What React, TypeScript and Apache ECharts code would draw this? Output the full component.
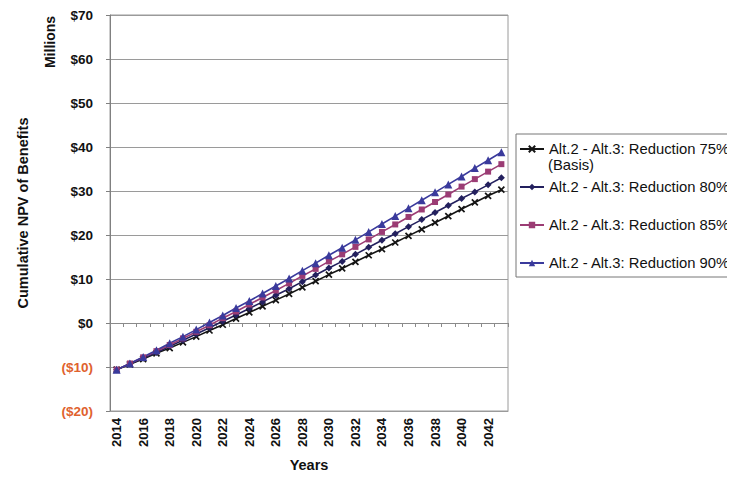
import React, { useEffect, useRef } from "react";
import * as echarts from "echarts";

// Years on the category axis
const years: string[] = [
  "2014", "2015", "2016", "2017", "2018", "2019", "2020", "2021", "2022", "2023",
  "2024", "2025", "2026", "2027", "2028", "2029", "2030", "2031", "2032", "2033",
  "2034", "2035", "2036", "2037", "2038", "2039", "2040", "2041", "2042", "2043",
];

// Cumulative NPV of benefits, $ millions
const reduction75: number[] = [
  -10.6, -9.4, -8.2, -6.9, -5.7, -4.4, -3.1, -1.7, -0.4, 1.0,
  2.4, 3.8, 5.2, 6.6, 8.1, 9.5, 11.0, 12.4, 13.9, 15.4,
  16.8, 18.3, 19.8, 21.3, 22.8, 24.3, 25.9, 27.4, 28.9, 30.3,
];
const reduction80: number[] = [
  -10.6, -9.3, -8.0, -6.7, -5.3, -3.9, -2.5, -1.1, 0.4, 1.8,
  3.3, 4.8, 6.3, 7.8, 9.4, 10.9, 12.5, 14.0, 15.6, 17.2,
  18.8, 20.3, 21.9, 23.5, 25.1, 26.7, 28.3, 29.8, 31.4, 33.0,
];
const reduction85: number[] = [
  -10.6, -9.2, -7.8, -6.4, -5.0, -3.5, -2.0, -0.5, 1.1, 2.6,
  4.2, 5.8, 7.4, 9.0, 10.7, 12.3, 14.0, 15.6, 17.3, 19.0,
  20.7, 22.4, 24.1, 25.8, 27.5, 29.2, 31.0, 32.7, 34.4, 36.1,
];
const reduction90: number[] = [
  -10.6, -9.2, -7.7, -6.2, -4.6, -3.1, -1.5, 0.1, 1.7, 3.4,
  5.0, 6.7, 8.4, 10.1, 11.9, 13.6, 15.4, 17.1, 18.9, 20.7,
  22.5, 24.3, 26.1, 27.9, 29.7, 31.5, 33.3, 35.2, 37.0, 38.8,
];

const seriesNames: string[] = [
  "Alt.2 - Alt.3: Reduction 75%",
  "Alt.2 - Alt.3: Reduction 80%",
  "Alt.2 - Alt.3: Reduction 85%",
  "Alt.2 - Alt.3: Reduction 90%",
];

const FONT = "Arial, 'Liberation Sans', Helvetica, sans-serif";
const GRID_COLOR = "#9a9a9a";
const LEGEND_FONT_SIZE = 14.8;

const crossPath = "path://M0,0L10,10M10,0L0,10";

function lineSeries(name: string, data: number[], color: string, symbol: string, size: number) {
  return {
    name,
    type: "line",
    data,
    symbol,
    symbolSize: size,
    showSymbol: true,
    lineStyle: { color, width: 1.6 },
    itemStyle: { color, borderColor: color, borderWidth: symbol === crossPath ? 1.7 : 0 },
    emphasis: { disabled: true },
  };
}

export default function App() {
  const ref = useRef<HTMLDivElement>(null);

  useEffect(() => {
    if (!ref.current) return;
    const chart = echarts.init(ref.current, undefined, { renderer: "svg" });

    chart.setOption({
      animation: false,
      backgroundColor: "#ffffff",
      textStyle: { fontFamily: FONT },
      grid: {
        left: 110,
        right: 227,
        top: 15,
        bottom: 68,
        outerBoundsMode: "none",
        containLabel: false,
        show: true,
        borderColor: GRID_COLOR,
        borderWidth: 1,
      },
      legend: {
        orient: "vertical",
        left: 516,
        top: 134,
        padding: [6.5, 40, 5.5, 3],
        itemGap: 21,
        itemWidth: 24,
        itemHeight: 8,
        borderColor: "#777777",
        borderWidth: 1,
        data: seriesNames,
        textStyle: {
          fontFamily: FONT,
          fontSize: LEGEND_FONT_SIZE,
          color: "#111111",
          lineHeight: 17,
        },
      },
      xAxis: [
        {
          type: "category",
          data: years,
          boundaryGap: true,
          position: "bottom",
          axisLine: { onZero: false, show: true, lineStyle: { color: GRID_COLOR } },
          axisTick: { show: false },
          axisLabel: {
            interval: 1,
            rotate: 90,
            margin: 7,
            fontFamily: FONT,
            fontSize: 13,
            fontWeight: "bold",
            color: "#111111",
          },
          name: "Years",
          nameLocation: "middle",
          nameGap: 46,
          nameTextStyle: { fontFamily: FONT, fontSize: 14.5, fontWeight: "bold", color: "#111111" },
        },
        {
          type: "category",
          data: years,
          boundaryGap: true,
          position: "bottom",
          axisLine: { onZero: true, show: true, lineStyle: { color: "#8a8a8a" } },
          axisTick: { show: true, interval: 0, length: 4, lineStyle: { color: "#8a8a8a" } },
          axisLabel: { show: false },
          splitLine: { show: false },
        },
      ],
      yAxis: {
        type: "value",
        min: -20,
        max: 70,
        interval: 10,
        axisLine: { show: true, lineStyle: { color: "#808080" } },
        axisTick: { show: true, length: 4, lineStyle: { color: "#808080" } },
        splitLine: { show: true, lineStyle: { color: GRID_COLOR, width: 1 } },
        axisLabel: {
          margin: 17,
          fontFamily: FONT,
          fontSize: 13.5,
          fontWeight: "bold",
          color: (v: number) => (v < 0 ? "#e0622e" : "#111111"),
          formatter: (v: number) => (v < 0 ? `($${Math.abs(v)})` : `$${v}`),
        },
        name: "Cumulative NPV of Benefits",
        nameLocation: "middle",
        nameGap: 80,
        nameTextStyle: { fontFamily: FONT, fontSize: 14.5, fontWeight: "bold", color: "#111111" },
      },
      graphic: [
        {
          type: "text",
          x: 50,
          y: 42,
          rotation: Math.PI / 2,
          style: {
            text: "Millions",
            font: `bold 14px ${FONT}`,
            fill: "#111111",
            align: "center",
            verticalAlign: "middle",
          },
        },
        {
          type: "text",
          x: 548,
          y: 165,
          style: {
            text: "(Basis)",
            font: `${LEGEND_FONT_SIZE}px ${FONT}`,
            fill: "#111111",
            align: "left",
            verticalAlign: "middle",
          },
        },
      ],
      series: [
        lineSeries(seriesNames[0], reduction75, "#151515", crossPath, 6),
        lineSeries(seriesNames[1], reduction80, "#23205e", "diamond", 7),
        lineSeries(seriesNames[2], reduction85, "#9b3c74", "rect", 6),
        lineSeries(seriesNames[3], reduction90, "#3a3a9c", "triangle", 8),
      ],
    });

    return () => chart.dispose();
  }, []);

  return <div ref={ref} style={{ width: 735, height: 479, margin: -8 }} />;
}
